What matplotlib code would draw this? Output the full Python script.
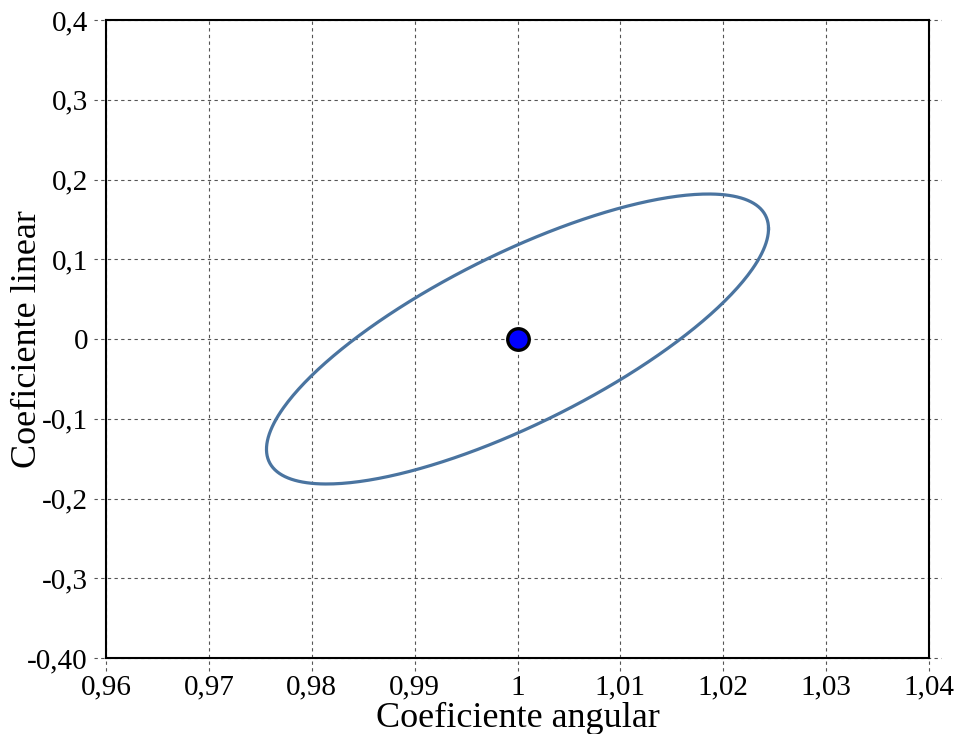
import numpy as np
import matplotlib
matplotlib.use("Agg")
import matplotlib.pyplot as plt

plt.rcParams['font.family'] = ['Liberation Serif', 'DejaVu Serif']

# Confidence region for (slope, intercept)
center_slope = 1.0
center_intercept = 0.0
half_range_slope = 0.0244      # max |dx| on the ellipse
half_range_intercept = 0.1818  # max |dy| on the ellipse
half_width_at_center = 0.118   # |dy| at slope == center

x_ticks = [0.96, 0.97, 0.98, 0.99, 1.00, 1.01, 1.02, 1.03, 1.04]
x_tick_labels = ['0,96', '0,97', '0,98', '0,99', '1', '1,01', '1,02', '1,03', '1,04']
y_ticks = [0.4, 0.3, 0.2, 0.1, 0.0, -0.1, -0.2, -0.3, -0.4]
y_tick_labels = ['0,4', '0,3', '0,2', '0,1', '0', '-0,1', '-0,2', '-0,3', '-0,40']

# Covariance-like matrix of the ellipse from its extents
sxx = half_range_slope ** 2
syy = half_range_intercept ** 2
sxy = np.sqrt((syy - half_width_at_center ** 2) * sxx)
S = np.array([[sxx, sxy], [sxy, syy]])
L = np.linalg.cholesky(S)
t = np.linspace(0, 2 * np.pi, 400)
pts = L @ np.vstack([np.cos(t), np.sin(t)])
ex = center_slope + pts[0]
ey = center_intercept + pts[1]

fig = plt.figure(figsize=(9.6, 7.34), dpi=100)
ax = fig.add_axes([106 / 960, 76 / 734, 823 / 960, 638 / 734])
ax.set_xlim(0.96, 1.04)
ax.set_ylim(-0.4, 0.4)

grid_kw = dict(color='#555555', lw=0.8, dashes=(3, 3), clip_on=False, zorder=1)
for xv in x_ticks:
    ax.axvline(xv, ymin=-0.02, ymax=1.0, **grid_kw)
for yv in y_ticks:
    ax.axhline(yv, xmin=-0.015, xmax=1.015, **grid_kw)

ax.plot(ex, ey, color='#4a74a0', lw=2.3, zorder=3)
ax.plot([center_slope], [center_intercept], 'o', ms=15.5, mfc='#0000ff',
        mec='black', mew=2.4, zorder=4)

ax.set_xticks(x_ticks)
ax.set_xticklabels(x_tick_labels)
ax.set_yticks(y_ticks)
ax.set_yticklabels(y_tick_labels)
ax.tick_params(length=0, labelsize=21)
ax.tick_params(axis='y', pad=13)
ax.tick_params(axis='x', pad=12)

for sp in ax.spines.values():
    sp.set_linewidth(1.5)
    sp.set_color('black')
    sp.set_zorder(5)

ax.set_xlabel('Coeficiente angular', fontsize=26)
ax.set_ylabel('Coeficiente linear', fontsize=26)
ax.xaxis.set_label_coords(0.5, -0.094)
ax.yaxis.set_label_coords(-0.095, 0.5)
ax.xaxis.label.set_va('center')
ax.yaxis.label.set_va('center')

fig.savefig('out.png', dpi=100)
